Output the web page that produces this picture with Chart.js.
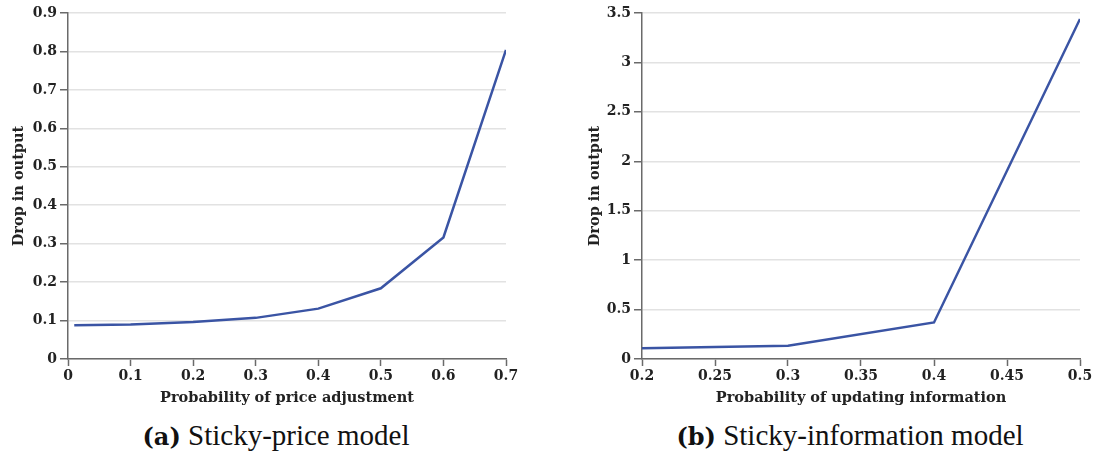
<!DOCTYPE html>
<html>
<head>
<meta charset="utf-8">
<script src="https://cdn.jsdelivr.net/npm/chart.js@4"></script>
<style>
  body { margin: 0; background: #fff; }
  .panel { position: absolute; top: 0; }
  .caption {
    position: absolute; top: 419px; text-align: center;
    font-family: "Liberation Serif", serif; font-size: 29px; color: #111;
  }
  .caption b { font-family: "DejaVu Serif", serif; font-size: 24px; }
</style>
</head>
<body>
<div class="panel" style="left:0;width:530px;height:407px"><canvas id="chartA"></canvas></div>
<div class="panel" style="left:560px;width:541px;height:407px"><canvas id="chartB"></canvas></div>
<div class="caption" style="left:0;width:552px"><b>(a)</b> Sticky-price model</div>
<div class="caption" style="left:575px;width:550px"><b>(b)</b> Sticky-information model</div>

<script>
// panel (a): sticky-price model
const priceProb = [0.01, 0.1, 0.2, 0.3, 0.4, 0.5, 0.6, 0.7];
const priceDrop = [0.088, 0.09, 0.096, 0.107, 0.131, 0.184, 0.316, 0.804];
const priceXTicks = [0, 0.1, 0.2, 0.3, 0.4, 0.5, 0.6, 0.7];
const priceYTicks = [0, 0.1, 0.2, 0.3, 0.4, 0.5, 0.6, 0.7, 0.8, 0.9];

// panel (b): sticky-information model
const infoProb = [0.2, 0.3, 0.4, 0.5];
const infoDrop = [0.108, 0.135, 0.37, 3.44];
const infoXTicks = [0.2, 0.25, 0.3, 0.35, 0.4, 0.45, 0.5];
const infoYTicks = [0, 0.5, 1, 1.5, 2, 2.5, 3, 3.5];

const lineColor = "#3a54a4";
const axisColor = "#6a6a6a";
const gridColor = "#e2e2e2";
const tickFont = { family: "DejaVu Serif", size: 14, weight: "bold" };
const titleFont = { family: "DejaVu Serif", size: 14.5, weight: "bold" };

function makeChart(id, xs, ys, xTicks, yTicks, xTitle, padLeft, yWidth, padRight){

    const points = xs.map((x, i) => ({ x: x, y: ys[i] }));

    return new Chart(document.getElementById(id), {
        type: "line",
        data: {
            datasets: [{
                data: points,
                borderColor: lineColor,
                borderWidth: 2.5,
                pointRadius: 0,
                tension: 0,
                fill: false
            }]
        },
        options: {
            responsive: true,
            maintainAspectRatio: false,
            animation: false,
            layout: { padding: { top: 13, right: padRight, left: padLeft, bottom: 0 } },
            plugins: { legend: { display: false }, tooltip: { enabled: false } },
            scales: {
                x: {
                    type: "linear",
                    min: xTicks[0],
                    max: xTicks[xTicks.length - 1],
                    afterBuildTicks: s => { s.ticks = xTicks.map(v => ({ value: v })); },
                    afterFit: s => { s.height = 48; },
                    ticks: {
                        color: "#222",
                        font: tickFont,
                        padding: 2,
                        maxRotation: 0,
                        autoSkip: false,
                        callback: v => String(v)
                    },
                    grid: { drawOnChartArea: false, drawTicks: true, tickLength: 7, tickColor: axisColor, tickWidth: 1.5 },
                    border: { color: axisColor, width: 1.5 },
                    title: { display: true, text: xTitle, color: "#222", font: titleFont, padding: { top: 0, bottom: 0 } }
                },
                y: {
                    type: "linear",
                    min: yTicks[0],
                    max: yTicks[yTicks.length - 1],
                    afterBuildTicks: s => { s.ticks = yTicks.map(v => ({ value: v })); },
                    afterFit: s => { s.width = yWidth; },
                    ticks: {
                        color: "#222",
                        font: tickFont,
                        padding: 3,
                        autoSkip: false,
                        callback: v => String(v)
                    },
                    grid: { color: gridColor, lineWidth: 1.5, drawTicks: true, tickLength: 8, tickColor: axisColor, tickWidth: 1.5 },
                    border: { color: axisColor, width: 1.5 },
                    title: { display: true, text: "Drop in output", color: "#222", font: titleFont, padding: { top: 4, bottom: 4 } }
                }
            }
        }
    });

}

makeChart("chartA", priceProb, priceDrop, priceXTicks, priceYTicks,
    "Probability of price adjustment", 7, 61, 24);

makeChart("chartB", infoProb, infoDrop, infoXTicks, infoYTicks,
    "Probability of updating information", 23, 59, 21);
</script>
</body>
</html>
